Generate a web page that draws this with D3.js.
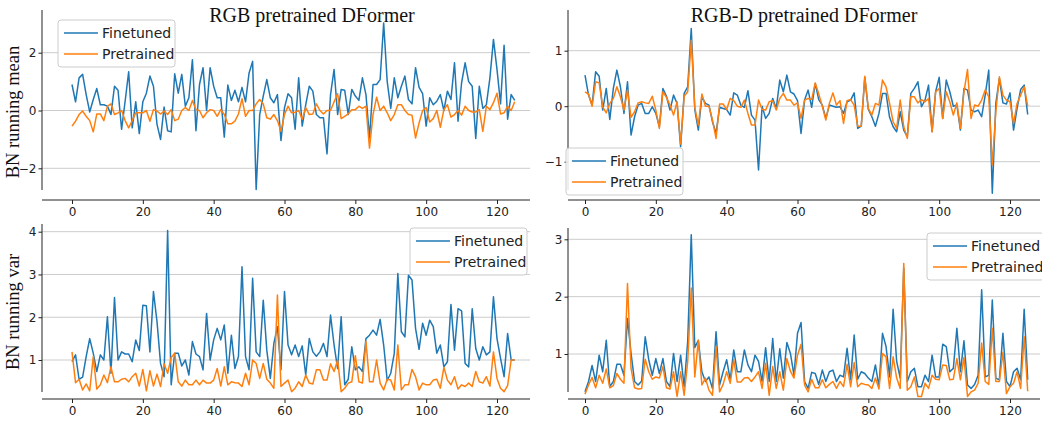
<!DOCTYPE html>
<html>
<head>
<meta charset="utf-8">
<script src="https://cdn.jsdelivr.net/npm/d3@7"></script>
<style>
  body { margin: 0; background: #fff; }
  svg text { font-family: "DejaVu Sans", sans-serif; }
</style>
</head>
<body>
<div id="chart"></div>
<script>
// channel index 0..125
const channels = d3.range(126);
const xTicks = [0, 20, 40, 60, 80, 100, 120];
const seriesNames = ["Finetuned", "Pretrained"];
const titles = ["RGB pretrained DFormer", "RGB-D pretrained DFormer"];
const rowLabels = ["BN running mean", "BN running var"];

// RGB pretrained, running mean
const rgbMeanFt = [0.9,0.3,1.13,1.25,0.55,-0.05,0.38,0.76,0.2,0.2,0.15,-0.14,0.84,0.7,-0.65,0.32,1.34,-0.6,0.3,-0.8,
  0.3,0.6,1.19,0.84,-0.48,-1.0,0.12,-0.7,-0.74,1.27,0.6,1.25,0.15,0.44,1.76,-0.7,0.9,1.48,0,1.48,
  0.84,0.44,0.44,-0.92,0.88,0.35,0.7,0.3,0.8,0.3,1.3,1.7,-2.73,-0.14,0.5,1.07,0.44,0.27,0.55,-1.04,
  0.1,0.58,0.44,-0.65,1.13,-0.54,0.2,0.84,0.67,-0.14,-0.25,-0.25,-1.5,0.55,1.42,-0.14,0.73,0.7,-0.14,0.73,
  0.5,0.35,1.13,0.55,-0.95,0.9,0.9,1.07,3.03,1.0,0.07,1.13,0.44,0.84,1.19,0.38,0.23,1.48,0.8,0.58,
  -0.54,0.44,0.2,0.32,0.55,0,0.67,0.38,1.65,-0.37,0.96,1.65,1.0,0.84,-0.97,0.84,0.07,0.2,1.13,2.46,
  1.42,0.23,2.26,-0.3,0.55,0.35];
const rgbMeanPre = [-0.54,-0.37,-0.14,-0.02,-0.2,-0.35,-0.74,-0.12,-0.12,-0.35,0.15,0.23,-0.14,-0.08,0,-0.35,-0.6,-0.35,-0.08,-0.08,
  -0.08,0,-0.37,0.03,-0.02,-0.12,-0.02,-0.14,0.03,-0.35,-0.3,0,0.1,0,0.35,0.03,0,-0.25,-0.08,0.03,
  0,-0.2,0.03,-0.14,-0.46,-0.46,-0.37,-0.12,0.41,-0.2,0,0,0.23,0.38,0.23,-0.25,-0.3,-0.14,-0.35,-0.72,
  -0.14,0.15,-0.08,-0.06,0,-0.3,0.1,-0.14,-0.12,0.23,0,-0.12,0,0,0.3,0.58,-0.28,-0.2,-0.12,0.03,
  0.03,0.15,0.07,0.15,-1.3,-0.14,0.46,0,0.15,-0.08,-0.35,-0.14,0.2,0.2,0,-0.14,-0.16,-0.95,-0.43,0,
  0.1,-0.4,-0.28,0,-0.58,0.03,0.2,-0.23,-0.14,0,-0.16,0.15,0,-0.05,-0.05,0.03,-0.72,0.15,0.03,0.27,
  0.6,-0.12,-0.08,0.15,0,0.3];

// RGB-D pretrained, running mean
const rgbdMeanFt = [0.56,0.2,0.02,0.62,0.54,-0.07,0.32,-0.24,0.32,0.65,0.35,-0.13,0.44,-0.52,-0.19,0.02,0.05,-0.13,-0.13,-0.01,
  -0.13,-0.37,0.32,0.18,-0.07,0.2,0.05,-0.73,0.23,0.35,1.4,-0.06,-0.43,0.17,0.05,0.02,-0.28,-0.49,-0.02,-0.04,
  -0.06,-0.16,0.24,0.2,0.02,-0.02,0.28,-0.16,-0.25,-1.15,0,-0.22,-0.13,0.14,-0.04,0.47,0.26,0.56,0.26,0.22,
  0.1,-0.49,0.11,0.29,-0.02,0.41,0.12,0.02,-0.22,0.02,0,-0.02,-0.01,-0.13,0.08,0.11,0.24,-0.4,-0.36,0.52,
  -0.06,-0.19,-0.36,-0.13,0.23,0.23,-0.2,-0.37,-0.46,-0.1,-0.43,-0.55,0.23,0.32,0.44,-0.01,0.11,0.38,-0.46,0.26,
  0.52,-0.22,0.47,0.26,0,0.02,-0.43,0.32,0.29,-0.07,-0.1,-0.07,-0.19,0.2,0.65,-1.57,0.05,0.5,0.06,0.04,
  0.24,-0.43,-0.04,0.3,0.38,-0.15];
const rgbdMeanPre = [0.26,0.22,0,0.44,0.42,-0.01,-0.12,0.05,0.14,0.35,0.17,-0.07,0.29,-0.2,-0.1,0.06,0.08,0.06,0.05,0.18,
  -0.07,-0.4,0.26,0.16,0.02,-0.16,0.08,-0.68,0.18,0.26,1.19,-0.02,-0.34,0.22,0,0,-0.25,-0.58,0.04,0.04,
  -0.06,0.14,0.1,0,-0.02,0.11,-0.13,-0.34,-0.34,0.11,-0.06,-0.07,0.08,0.1,-0.07,0.14,0.23,0.11,0.11,0.02,
  0.06,-0.22,0.11,0.14,0.12,0.42,0.22,0,-0.25,0.05,0.24,0.02,0.1,-0.31,0.1,0.12,0.02,-0.36,-0.36,0.54,
  -0.04,-0.16,0.05,0.02,0.47,0.35,0.05,-0.28,-0.4,0.11,-0.37,-0.58,0.17,0.17,0.06,0.12,0.08,0.14,-0.46,0.26,
  0.32,-0.22,0.26,0.08,-0.16,0.06,-0.4,0.26,0.66,-0.22,0.02,0,0.11,0.29,0.17,-1.06,-0.1,0.53,0.2,0.11,
  0.08,-0.31,0.05,0.2,0.35,0];

// RGB pretrained, running var
const rgbVarFt = [0.96,1.12,0.55,0.6,1.08,1.5,1.16,0.73,1.12,1.0,2.01,0.69,2.46,1.0,1.19,1.14,1.14,0.96,1.47,1.22,
  2.28,2.27,1.19,2.6,1.9,0.92,0.61,4.03,0.42,1.16,1.16,0.86,1.0,0.65,1.43,1.14,1.08,0.77,2.09,1.0,
  1.47,1.74,1.47,1.82,0.69,1.58,0.8,1.08,3.18,1.08,0.77,2.91,1.19,1.08,2.4,1.23,0.57,1.39,1.78,0.77,
  2.6,1.35,1.12,1.35,1.08,1.33,0.65,1.5,1.19,1.09,1.19,1.39,1.08,2.05,1.35,0.8,2.01,0.42,0.55,1.31,
  0.77,0.84,0.73,1.5,1.58,1.7,1.58,1.95,1.35,0.52,0.69,1.16,3.02,1.66,1.54,2.98,2.87,1.74,1.25,1.86,
  1.58,1.93,1.78,1.16,1.35,0.84,0.96,2.3,1.23,2.2,2.15,0.92,0.84,2.2,1.27,1.0,1.31,1.12,1.19,2.48,
  1.5,1.04,0.61,1.62,1.0,1.0];
const rgbVarPre = [1.19,0.47,0.55,0.3,0.44,0.28,1.08,0.32,0.42,0.65,0.47,0.84,0.49,0.49,0.55,0.57,0.49,0.61,0.69,0.39,
  0.78,0.28,0.75,0.39,0.67,0.38,0.91,0.69,1.06,1.16,0.49,0.39,0.53,0.42,0.42,0.53,0.42,0.53,0.46,0.46,
  0.53,0.8,0.39,0.84,0.42,0.49,0.47,0.46,0.38,0.69,0.42,1.0,0.92,0.57,0.92,0.55,0.46,0.34,2.52,0.38,
  0.46,0.53,0.26,0.34,0.49,0.38,0.65,0.46,0.44,0.77,0.77,0.53,0.53,0.91,0.73,1.0,0.26,0.34,0.46,0.49,
  1.1,0.49,0.46,1.43,0.49,0.49,1.0,0.46,0.3,0.55,0.53,0.3,1.35,0.3,0.42,0.42,0.78,0.61,0.3,0.46,
  0.42,0.42,0.53,0.55,0.34,0.83,0.53,0.42,0.61,0.32,0.42,0.38,0.46,0.38,0.73,0.49,0.46,0.61,0.39,1.19,
  0.57,0.34,0.26,0.4,1.0,1.0];

// RGB-D pretrained, running var
const rgbdVarFt = [0.34,0.52,0.8,0.52,0.98,0.69,1.24,0.43,0.52,0.82,0.82,0.63,1.62,1.01,0.52,0.46,0.53,1.3,0.9,0.63,
  0.92,0.66,0.92,0.52,0.43,1.01,0.52,0.98,0.43,1.22,3.08,1.11,1.24,0.69,0.52,0.6,0.4,1.39,0.46,0.69,
  0.9,0.55,1.07,0.69,0.69,1.07,0.81,0.69,0.98,0.87,0.52,1.11,0.52,1.27,0.52,1.09,0.58,1.2,1.01,0.63,
  1.36,1.55,0.52,0.4,0.68,0.66,0.47,0.72,0.52,0.69,0.72,0.52,0.63,0.6,1.1,0.55,1.33,0.56,0.69,0.66,
  0.58,0.52,0.81,0.43,1.36,1.13,0.6,1.78,0.87,0.58,2.5,0.52,0.69,0.75,0.43,0.43,0.63,0.52,0.98,0.6,
  0.6,1.17,1.13,0.69,0.75,1.45,0.69,1.23,0.46,0.4,0.47,0.63,2.12,0.6,0.63,1.94,0.58,0.55,1.36,0.52,
  0.43,0.69,0.75,0.55,1.78,0.55];
const rgbdVarPre = [0.3,0.46,0.59,0.41,0.63,0.49,0.74,0.41,0.45,0.66,0.56,0.49,2.23,0.75,0.41,0.39,0.4,0.91,0.69,0.56,
  0.6,0.58,0.78,0.41,0.39,0.69,0.26,0.69,0.28,0.87,2.15,0.6,1.24,0.46,0.58,0.37,0.28,1.13,0.34,0.47,
  0.69,0.49,0.9,0.51,0.51,0.58,0.59,0.52,0.6,0.69,0.4,0.84,0.28,0.78,0.4,0.69,0.37,0.92,0.7,0.58,
  0.98,1.17,0.46,0.34,0.56,0.41,0.41,0.55,0.41,0.47,0.52,0.4,0.52,0.43,0.82,0.43,0.85,0.43,0.49,0.47,
  0.46,0.4,0.58,0.39,1.01,0.95,0.4,0.95,0.58,0.4,2.58,0.37,0.43,0.6,0.26,0.26,0.49,0.4,0.63,0.56,
  0.55,0.81,0.8,0.55,0.56,0.92,0.55,0.94,0.26,0.34,0.37,0.49,1.19,0.52,0.47,1.45,0.52,0.52,1.03,0.31,
  0.43,0.49,0.69,0.4,1.3,0.35];

const W = 1042, H = 424;
const colors = ["#1f77b4", "#ff7f0e"];

const svg = d3.select("#chart").append("svg")
  .attr("width", W).attr("height", H)
  .style("display", "block");

// row labels go first so tick labels sit on top
rowLabels.forEach((t, k) => {
  svg.append("text").attr("transform", `translate(19,${k ? 312 : 112}) rotate(-90)`)
    .attr("text-anchor", "middle").style("font-family", "'Liberation Serif', serif")
    .attr("font-size", 18.5).attr("fill", "#111").text(t);
});

const panels = [
  {data: [rgbMeanFt, rgbMeanPre], left: 42, right: 530, top: 10, bottom: 190, spineY: 200,
   xr: [72, 497], yd: [-2, 2], yr: [168.3, 52.7], yTicks: [-2, 0, 2], legend: [58, 20], title: titles[0], titleX: 312},
  {data: [rgbdMeanFt, rgbdMeanPre], left: 568, right: 1040, top: 10, bottom: 190, spineY: 200,
   xr: [585, 1010], yd: [-1, 1], yr: [161.7, 50.7], yTicks: [-1, 0, 1], legend: [566, 148], title: titles[1], titleX: 804},
  {data: [rgbVarFt, rgbVarPre], left: 42, right: 530, top: 224, bottom: 392, spineY: 399,
   xr: [72, 497], yd: [1, 4], yr: [360, 231.7], yTicks: [1, 2, 3, 4], legend: [410, 228]},
  {data: [rgbdVarFt, rgbdVarPre], left: 568, right: 1040, top: 228, bottom: 392, spineY: 399,
   xr: [585, 1010], yd: [1, 3], yr: [354, 239.3], yTicks: [1, 2, 3], legend: [927, 233]}
];

panels.forEach(p => {
  const x = d3.scaleLinear().domain([0, 120]).range(p.xr);
  const y = d3.scaleLinear().domain(p.yd).range(p.yr);
  const g = svg.append("g");

  // horizontal grid
  g.selectAll(".grid").data(p.yTicks).join("line")
    .attr("x1", p.left).attr("x2", p.right)
    .attr("y1", d => y(d)).attr("y2", d => y(d))
    .attr("stroke", "#cccccc").attr("stroke-width", 1);

  // axes
  const ax = g.append("g").attr("transform", `translate(0,${p.spineY})`)
    .call(d3.axisBottom(x).tickValues(xTicks).tickSize(4).tickPadding(3));
  ax.select(".domain").attr("d", `M${p.left},0H${p.right}`);
  const ay = g.append("g").attr("transform", `translate(${p.left},0)`)
    .call(d3.axisLeft(y).tickValues(p.yTicks).tickSize(3.5).tickPadding(2).tickFormat(d => d < 0 ? "\u2212" + (-d) : d));
  ay.select(".domain").attr("d", `M0,${p.top}V${p.bottom}`);
  g.selectAll(".tick text").attr("font-size", 12).attr("font-family", "DejaVu Sans").attr("fill", "#222");
  g.selectAll(".domain, .tick line").attr("stroke", "#222");

  // lines
  const line = d3.line().x((d, i) => x(channels[i])).y(d => y(d));
  p.data.forEach((s, k) => {
    g.append("path").datum(s).attr("d", line)
      .attr("fill", "none").attr("stroke", colors[k]).attr("stroke-width", 1.5)
      .attr("stroke-linejoin", "round");
  });

  // legend
  const lg = g.append("g").attr("transform", `translate(${p.legend[0]},${p.legend[1]})`);
  lg.append("rect").attr("width", 117).attr("height", 47).attr("rx", 3)
    .attr("fill", "#fff").attr("fill-opacity", 0.85).attr("stroke", "#cccccc");
  seriesNames.forEach((n, k) => {
    lg.append("line").attr("x1", 6).attr("x2", 40).attr("y1", 13 + k * 21).attr("y2", 13 + k * 21)
      .attr("stroke", colors[k]).attr("stroke-width", 1.5);
    lg.append("text").attr("x", 44).attr("y", 13 + k * 21).attr("dy", "0.35em")
      .attr("font-size", 14).attr("fill", "#222").text(n);
  });

  if (p.title) {
    svg.append("text").attr("x", p.titleX).attr("y", 22).attr("text-anchor", "middle")
      .style("font-family", "'Liberation Serif', serif").attr("font-size", 20).attr("fill", "#111").text(p.title);
  }
});
</script>
</body>
</html>
